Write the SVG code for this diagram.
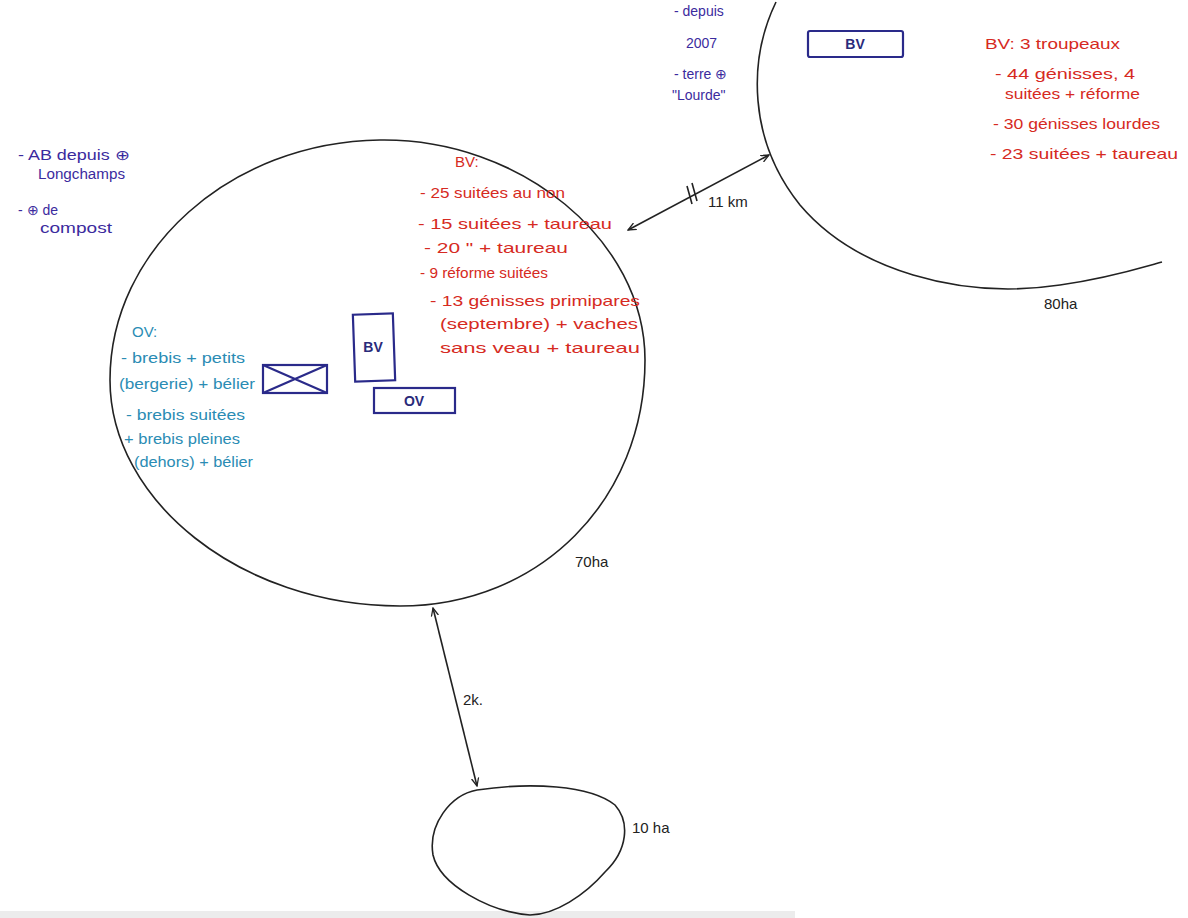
<svg xmlns="http://www.w3.org/2000/svg" width="1188" height="918" viewBox="0 0 1188 918">
<style>
.line{fill:none;stroke:#222;stroke-width:1.6}
.box{fill:none;stroke:#2a2a8a;stroke-width:2.2}
.t{font-family:"Liberation Sans",Arial,sans-serif}
.blue{fill:#3b2b9e;font-size:14px}
.red{fill:#d62a22;font-size:15px}
.teal{fill:#2a8cb4;font-size:15px}
.blk{fill:#222;font-size:15px}
.lbl{fill:#2a2a7a;font-size:14px;font-weight:bold}
</style>
<defs>
<marker id="ah" viewBox="0 0 10 10" refX="9" refY="5" markerWidth="9" markerHeight="9" orient="auto-start-reverse" markerUnits="userSpaceOnUse">
<path d="M0,1 L9,5 L0,9" fill="none" stroke="#222" stroke-width="1.4"/>
</marker>
</defs>
<rect width="1188" height="918" fill="#ffffff"/>
<rect x="0" y="911" width="795" height="7" fill="#ececec"/>

<g id="plot-70ha">
<path class="line" d="M380,140 C520,138 645,240 645,360 C645,500 540,606 400,606 C240,606 110,500 110,380 C110,250 230,142 380,140 Z"/>
<text class="t blk" x="575" y="567">70ha</text>
</g>

<g id="plot-80ha">
<path class="line" d="M776,2 C748,60 748,140 800,205 C855,270 960,300 1060,285 C1110,278 1140,268 1162,262"/>
<text class="t blk" x="1044" y="309">80ha</text>
</g>

<g id="plot-10ha">
<path class="line" d="M477,790 C530,782 590,785 615,805 C630,822 628,850 605,872 C585,895 555,915 530,915 C490,912 440,885 433,855 C428,825 450,795 477,790 Z"/>
<text class="t blk" x="632" y="833">10 ha</text>
</g>

<g id="building-bv-top">
<rect class="box" x="808" y="31" width="95" height="26" rx="2"/>
<text class="t lbl" x="855" y="49" text-anchor="middle">BV</text>
</g>

<g id="building-bv">
<rect class="box" x="354" y="314" width="40" height="67" transform="rotate(-2 374 347)"/>
<text class="t lbl" x="373" y="352" text-anchor="middle">BV</text>
</g>

<g id="building-ov">
<rect class="box" x="374" y="388" width="81" height="25"/>
<text class="t lbl" x="414" y="406" text-anchor="middle">OV</text>
</g>

<g id="building-sheepfold">
<rect class="box" x="263" y="365" width="64" height="28"/>
<path class="box" d="M263,365 L327,393 M263,393 L327,365" stroke-width="1.6"/>
</g>

<g id="notes-left">
<text class="t blue" x="18" y="160" textLength="112" lengthAdjust="spacingAndGlyphs">- AB depuis ⊕</text>
<text class="t blue" x="38" y="179" textLength="87" lengthAdjust="spacingAndGlyphs">Longchamps</text>
<text class="t blue" x="18" y="215">- ⊕ de</text>
<text class="t blue" x="40" y="233" textLength="72" lengthAdjust="spacingAndGlyphs">compost</text>
</g>

<g id="notes-top">
<text class="t blue" x="674" y="16">- depuis</text>
<text class="t blue" x="686" y="48">2007</text>
<text class="t blue" x="674" y="79">- terre ⊕</text>
<text class="t blue" x="672" y="100">"Lourde"</text>
</g>

<g id="notes-bv-80ha">
<text class="t red" x="985" y="49" textLength="135" lengthAdjust="spacingAndGlyphs">BV: 3 troupeaux</text>
<text class="t red" x="995" y="79" textLength="140" lengthAdjust="spacingAndGlyphs">- 44 génisses, 4</text>
<text class="t red" x="1005" y="99" textLength="135" lengthAdjust="spacingAndGlyphs">suitées + réforme</text>
<text class="t red" x="993" y="129" textLength="167" lengthAdjust="spacingAndGlyphs">- 30 génisses lourdes</text>
<text class="t red" x="990" y="159" textLength="188" lengthAdjust="spacingAndGlyphs">- 23 suitées + taureau</text>
</g>

<g id="notes-bv-70ha">
<text class="t red" x="455" y="167" font-size="16">BV:</text>
<text class="t red" x="420" y="198" textLength="145" lengthAdjust="spacingAndGlyphs">- 25 suitées au non</text>
<text class="t red" x="418" y="229" textLength="194" lengthAdjust="spacingAndGlyphs">- 15 suitées + taureau</text>
<text class="t red" x="424" y="253" textLength="144" lengthAdjust="spacingAndGlyphs">- 20  "  + taureau</text>
<text class="t red" x="420" y="278" textLength="128" lengthAdjust="spacingAndGlyphs">- 9 réforme suitées</text>
<text class="t red" x="430" y="306" textLength="210" lengthAdjust="spacingAndGlyphs">- 13 génisses primipares</text>
<text class="t red" x="440" y="329" textLength="198" lengthAdjust="spacingAndGlyphs">(septembre) + vaches</text>
<text class="t red" x="440" y="353" textLength="200" lengthAdjust="spacingAndGlyphs">sans veau + taureau</text>
</g>

<g id="notes-ov">
<text class="t teal" x="132" y="337">OV:</text>
<text class="t teal" x="121" y="363" textLength="124" lengthAdjust="spacingAndGlyphs">- brebis + petits</text>
<text class="t teal" x="119" y="389" textLength="136" lengthAdjust="spacingAndGlyphs">(bergerie) + bélier</text>
<text class="t teal" x="126" y="420" textLength="119" lengthAdjust="spacingAndGlyphs">- brebis suitées</text>
<text class="t teal" x="124" y="444" textLength="116" lengthAdjust="spacingAndGlyphs">+ brebis pleines</text>
<text class="t teal" x="134" y="467" textLength="119" lengthAdjust="spacingAndGlyphs">(dehors) + bélier</text>
</g>

<g id="connectors">
<line class="line" x1="769" y1="155" x2="628" y2="230" marker-start="url(#ah)" marker-end="url(#ah)"/>
<path class="line" d="M687,186 L692,204 M692,183 L697,201" stroke-width="1.8"/>
<text class="t blk" x="708" y="207" font-size="13">11 km</text>
<line class="line" x1="433" y1="608" x2="477" y2="786" marker-start="url(#ah)" marker-end="url(#ah)"/>
<text class="t blk" x="463" y="705" font-size="14">2k.</text>
</g>
</svg>
